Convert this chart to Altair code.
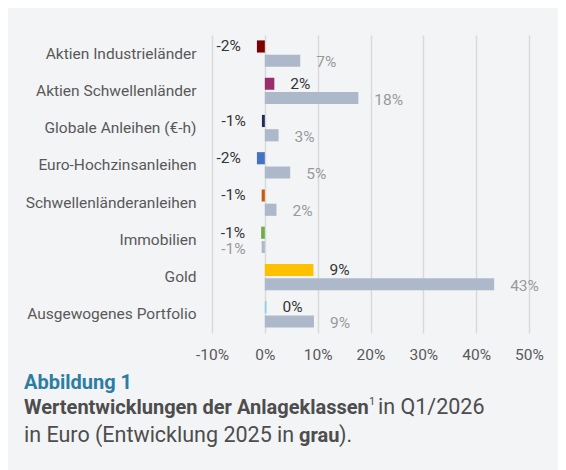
import altair as alt
import pandas as pd

# ---------------- data ----------------
categories = [
    "Aktien Industrieländer",
    "Aktien Schwellenländer",
    "Globale Anleihen (€-h)",
    "Euro-Hochzinsanleihen",
    "Schwellenländeranleihen",
    "Immobilien",
    "Gold",
    "Ausgewogenes Portfolio",
]
q1_2026 = [-1.5, 1.8, -0.55, -1.5, -0.6, -0.7, 9.2, 0.3]
y2025 = [6.7, 17.7, 2.6, 4.8, 2.2, -0.6, 43.4, 9.3]
bar_colors = ["#7f0000", "#9b2d6b", "#1f2d5c", "#4472c4",
              "#c55a11", "#70ad47", "#ffc000", "#7fd0e8"]
grey_bar = "#adb9ca"
series = ["Q1/2026", "2025"]
x_ticks = [-10, 0, 10, 20, 30, 40, 50]

title_1 = "Abbildung 1"
title_2_bold = "Wertentwicklungen der Anlageklassen"
title_2_sup = "1"
title_2_rest = "in Q1/2026"
title_3_a = "in Euro (Entwicklung 2025 in"
title_3_bold = "grau"
title_3_c = ")."

rows = []
for c, a, b in zip(categories, q1_2026, y2025):
    rows.append({"cat": c, "series": series[0], "v": a, "key": c})
    rows.append({"cat": c, "series": series[1], "v": b, "key": "2025"})
df = pd.DataFrame(rows)

# ---------------- styling ----------------
FONT = "Roboto"
W, H = 317, 298
TOTAL_W, TOTAL_H = 550, 462
BG = "#f3f4f6"
TXT = "#595959"

y_enc = alt.Y(
    "cat:N", sort=categories,
    scale=alt.Scale(paddingInner=0.29, paddingOuter=0.145),
    axis=alt.Axis(title=None, ticks=False, domain=False, grid=False,
                  labelPadding=16, labelFontSize=15.5, labelColor=TXT,
                  labelFont=FONT),
)
yoff = alt.YOffset("series:N", sort=series, scale=alt.Scale(paddingInner=0.15))
x_enc = alt.X(
    "v:Q", scale=alt.Scale(domain=[-10, 50]),
    axis=alt.Axis(values=x_ticks, labelExpr="datum.value + '%'", title=None,
                  domain=False, ticks=False, grid=True, gridColor="#d9d9d9",
                  gridWidth=1.5, labelPadding=14, labelFontSize=15.5,
                  labelColor=TXT, labelFont=FONT, labelFlush=False,
                  labelOverlap=False),
)

base = alt.Chart(df)
bars = base.mark_bar().encode(
    x=x_enc, y=y_enc, yOffset=yoff,
    color=alt.Color("key:N",
                    scale=alt.Scale(domain=categories + ["2025"],
                                    range=bar_colors + [grey_bar]),
                    legend=None),
)


def value_labels(ser, positive, color, dy):
    cond = f"datum.series == '{ser}' && datum.v {'>=' if positive else '<'} 0"
    return (
        base.transform_filter(cond)
        .transform_calculate(
            t="(datum.v < 0 ? '-' : '') + format(abs(datum.v), '.0f') + '%'")
        .mark_text(align="left" if positive else "right",
                   dx=16 if positive else -16, dy=dy, baseline="middle",
                   font=FONT, fontSize=15.5, color=color)
        .encode(x="v:Q", y=alt.Y("cat:N", sort=categories),
                yOffset=alt.YOffset("series:N", sort=series), text="t:N")
    )


labels = [
    value_labels(series[0], True, "#333333", 0),
    value_labels(series[0], False, "#333333", 0),
    value_labels(series[1], True, "#999999", 1.5),
    value_labels(series[1], False, "#999999", 1.5),
]

PL, PT = 204, 27


def title_text(txt, px, py, size=21.5, weight="normal", color="#4d4d4d"):
    # px, py: page coordinates -> plot coordinates
    return alt.Chart(alt.Data(values=[{}])).mark_text(
        text=txt, align="left", baseline="alphabetic", font=FONT,
        fontSize=size, fontWeight=weight, color=color,
    ).encode(x=alt.value(px - 8 - PL), y=alt.value(py - 8 - PT))


titles = [
    title_text(title_1, 24, 389, size=20, weight="bold", color="#2b7ea1"),
    title_text(title_2_bold, 24, 414, size=20, weight="bold"),
    title_text(title_2_sup, 369, 405, size=11),
    title_text(title_2_rest, 378, 414),
    title_text(title_3_a, 24, 442),
    title_text(title_3_bold, 299, 442, size=20, weight="bold"),
    title_text(title_3_c, 339, 442),
]

chart = (
    alt.layer(bars, *labels, *titles)
    .properties(
        width=W, height=H,
        autosize=alt.AutoSizeParams(type="none"),
        padding={"left": PL, "top": PT, "right": TOTAL_W - PL - W,
                 "bottom": TOTAL_H - PT - H},
        background=BG,
    )
    .configure_view(stroke=None)
)

chart.save("out.html", embed_options={"renderer": "svg", "actions": False})
